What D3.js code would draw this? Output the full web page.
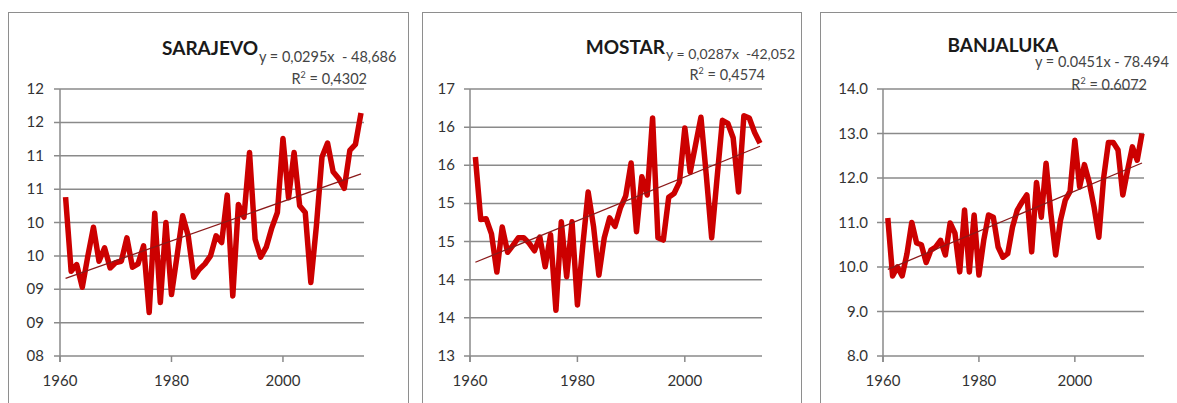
<!DOCTYPE html>
<html>
<head>
<meta charset="utf-8">
<script src="https://cdn.jsdelivr.net/npm/d3@7"></script>
<style>
  body { margin: 0; background: #fff; }
  svg { display: block; font-family: Lato, "Open Sans", sans-serif; }
</style>
</head>
<body>
<svg id="chart" width="1177" height="403"></svg>
<script>
// years on the x axis
var years = [1961,1962,1963,1964,1965,1966,1967,1968,1969,1970,
             1971,1972,1973,1974,1975,1976,1977,1978,1979,1980,
             1981,1982,1983,1984,1985,1986,1987,1988,1989,1990,
             1991,1992,1993,1994,1995,1996,1997,1998,1999,2000,
             2001,2002,2003,2004,2005,2006,2007,2008,2009,2010,
             2011,2012,2013,2014];

// mean annual temperature per station
var sarajevo = [10.38,9.27,9.37,9.03,9.5,9.93,9.42,9.62,9.32,9.4,
                9.42,9.77,9.33,9.38,9.65,8.65,10.14,8.8,10.0,8.92,
                9.5,10.1,9.8,9.18,9.3,9.38,9.5,9.8,9.7,10.41,
                8.9,10.27,10.08,11.05,9.75,9.48,9.63,9.92,10.15,11.26,
                10.37,11.05,10.25,10.15,9.1,9.95,10.98,11.19,10.76,10.66,
                10.51,11.08,11.17,11.64];
var mostar = [15.61,14.79,14.8,14.6,14.1,14.69,14.36,14.45,14.55,14.55,
              14.48,14.38,14.56,14.17,14.59,13.6,14.76,14.04,14.76,13.67,
              14.45,15.15,14.7,14.06,14.55,14.81,14.7,14.94,15.1,15.53,
              14.63,15.35,15.11,16.12,14.55,14.52,15.08,15.13,15.28,15.99,
              15.41,15.77,16.13,15.37,14.55,15.33,16.09,16.05,15.86,15.15,
              16.15,16.12,15.93,15.79];
var banjaluka = [11.1,9.8,10.0,9.8,10.3,11.0,10.54,10.5,10.1,10.38,
                 10.45,10.6,10.27,10.99,10.76,9.89,11.28,9.89,11.17,9.82,
                 10.6,11.17,11.12,10.45,10.22,10.3,10.9,11.28,11.46,11.62,
                 10.34,11.9,11.12,12.33,11.2,10.27,11.05,11.5,11.7,12.85,
                 11.8,12.3,11.9,11.35,10.67,12.0,12.8,12.8,12.63,11.62,
                 12.18,12.7,12.4,13.0];

// station names and trend line labels
var stations = ["SARAJEVO", "MOSTAR", "BANJALUKA"];
var slopes = [0.0295, 0.0287, 0.0451];
var intercepts = [-48.686, -42.052, -78.494];
var eqLabels = ["y = 0,0295x  - 48,686", "y = 0,0287x  -42,052", "y = 0.0451x - 78.494"];
var r2Labels = ["0,4302", "0,4574", "0.6072"];

// axis ranges and ticks
var yDomains = [[8, 12], [13, 16.5], [8, 14]];
var yTicks = [[8,8.5,9,9.5,10,10.5,11,11.5,12],
              [13,13.5,14,14.5,15,15.5,16,16.5],
              [8,9,10,11,12,13,14]];
var yFormats = ["02.0f", ".0f", ".1f"];
var xTicks = [1960, 1980, 2000];

var series = [sarajevo, mostar, banjaluka];

// layout for each panel
var panels = [
  {box: [8, 12, 400, 420],  left: 60,  right: 361,  grid: 364,  lblEnd: 44, eqSize: 14.5,
   title: {x: 258, y: 55, anchor: "end"}, eq: {x: 259, y: 62}, r2: {x: 367, y: 84}},
  {box: [422, 12, 379, 420], left: 470, right: 760, grid: 762, lblEnd: 455, eqSize: 14,
   title: {x: 665, y: 54, anchor: "end"}, eq: {x: 666, y: 59}, r2: {x: 765, y: 80}},
  {box: [820, 12, 400, 420], left: 883, right: 1142, grid: 1144, lblEnd: 868, eqSize: 14.5,
   title: {x: 1003, y: 52, anchor: "middle"}, eq: {x: 1035, y: 67}, r2: {x: 1147, y: 90}}
];

var plotTop = 89, plotBottom = 356;
var svg = d3.select("#chart");

panels.forEach(function(p, i) {
  var g = svg.append("g");

  g.append("rect")
    .attr("x", p.box[0] + 0.5).attr("y", p.box[1] + 0.5)
    .attr("width", p.box[2]).attr("height", p.box[3])
    .attr("fill", "#fff").attr("stroke", "#8e8e8e").attr("stroke-width", 1);

  var x = d3.scaleLinear().domain([1960, 2014]).range([p.left, p.right]);
  var y = d3.scaleLinear().domain(yDomains[i]).range([plotBottom, plotTop]);

  // gridlines
  g.selectAll(".grid").data(yTicks[i]).enter().append("line")
    .attr("x1", p.left - 6).attr("x2", p.grid)
    .attr("y1", function(d) { return y(d); })
    .attr("y2", function(d) { return y(d); })
    .attr("stroke", "#8a8a8a").attr("stroke-width", 1.5);

  // y axis line
  g.append("line")
    .attr("x1", p.left).attr("x2", p.left)
    .attr("y1", plotTop).attr("y2", plotBottom + 6)
    .attr("stroke", "#8a8a8a").attr("stroke-width", 1.5);

  // x ticks
  g.selectAll(".xt").data(xTicks).enter().append("line")
    .attr("x1", function(d) { return x(d); })
    .attr("x2", function(d) { return x(d); })
    .attr("y1", plotBottom).attr("y2", plotBottom + 6)
    .attr("stroke", "#8a8a8a").attr("stroke-width", 1.5);

  g.selectAll(".xl").data(xTicks).enter().append("text")
    .attr("x", function(d) { return x(d); })
    .attr("y", 386)
    .attr("text-anchor", "middle")
    .attr("font-size", 15).attr("fill", "#333")
    .text(function(d) { return d; });

  var fmt = d3.format(yFormats[i]);
  g.selectAll(".yl").data(yTicks[i]).enter().append("text")
    .attr("x", p.lblEnd)
    .attr("y", function(d) { return y(d) + 5; })
    .attr("text-anchor", "end")
    .attr("font-size", 15).attr("fill", "#333")
    .text(function(d) { return fmt(d); });

  // data line
  var line = d3.line()
    .x(function(d, j) { return x(years[j]); })
    .y(function(d) { return y(d); });

  g.append("path")
    .datum(series[i])
    .attr("d", line)
    .attr("fill", "none")
    .attr("stroke", "#cc0000")
    .attr("stroke-width", 5.5)
    .attr("stroke-linejoin", "round");

  // trend line
  var x0 = years[0], x1 = years[years.length - 1];
  g.append("line")
    .attr("x1", x(x0)).attr("y1", y(slopes[i] * x0 + intercepts[i]))
    .attr("x2", x(x1)).attr("y2", y(slopes[i] * x1 + intercepts[i]))
    .attr("stroke", "#8b1a1a").attr("stroke-width", 1.3);

  // title and trend equation
  g.append("text")
    .attr("x", p.title.x).attr("y", p.title.y)
    .attr("text-anchor", p.title.anchor)
    .attr("font-size", 19).attr("font-weight", "bold").attr("fill", "#1a1a1a")
    .text(stations[i]);

  g.append("text")
    .attr("x", p.eq.x).attr("y", p.eq.y)
    .attr("font-size", p.eqSize).attr("fill", "#444")
    .attr("xml:space", "preserve")
    .text(eqLabels[i]);

  var r2 = g.append("text")
    .attr("x", p.r2.x).attr("y", p.r2.y)
    .attr("text-anchor", "end")
    .attr("font-size", 14.5).attr("fill", "#444");
  r2.append("tspan").text("R");
  r2.append("tspan").attr("dy", -6).attr("font-size", 9).text("2");
  r2.append("tspan").attr("dy", 6).text(" = " + r2Labels[i]);
});
</script>
</body>
</html>
